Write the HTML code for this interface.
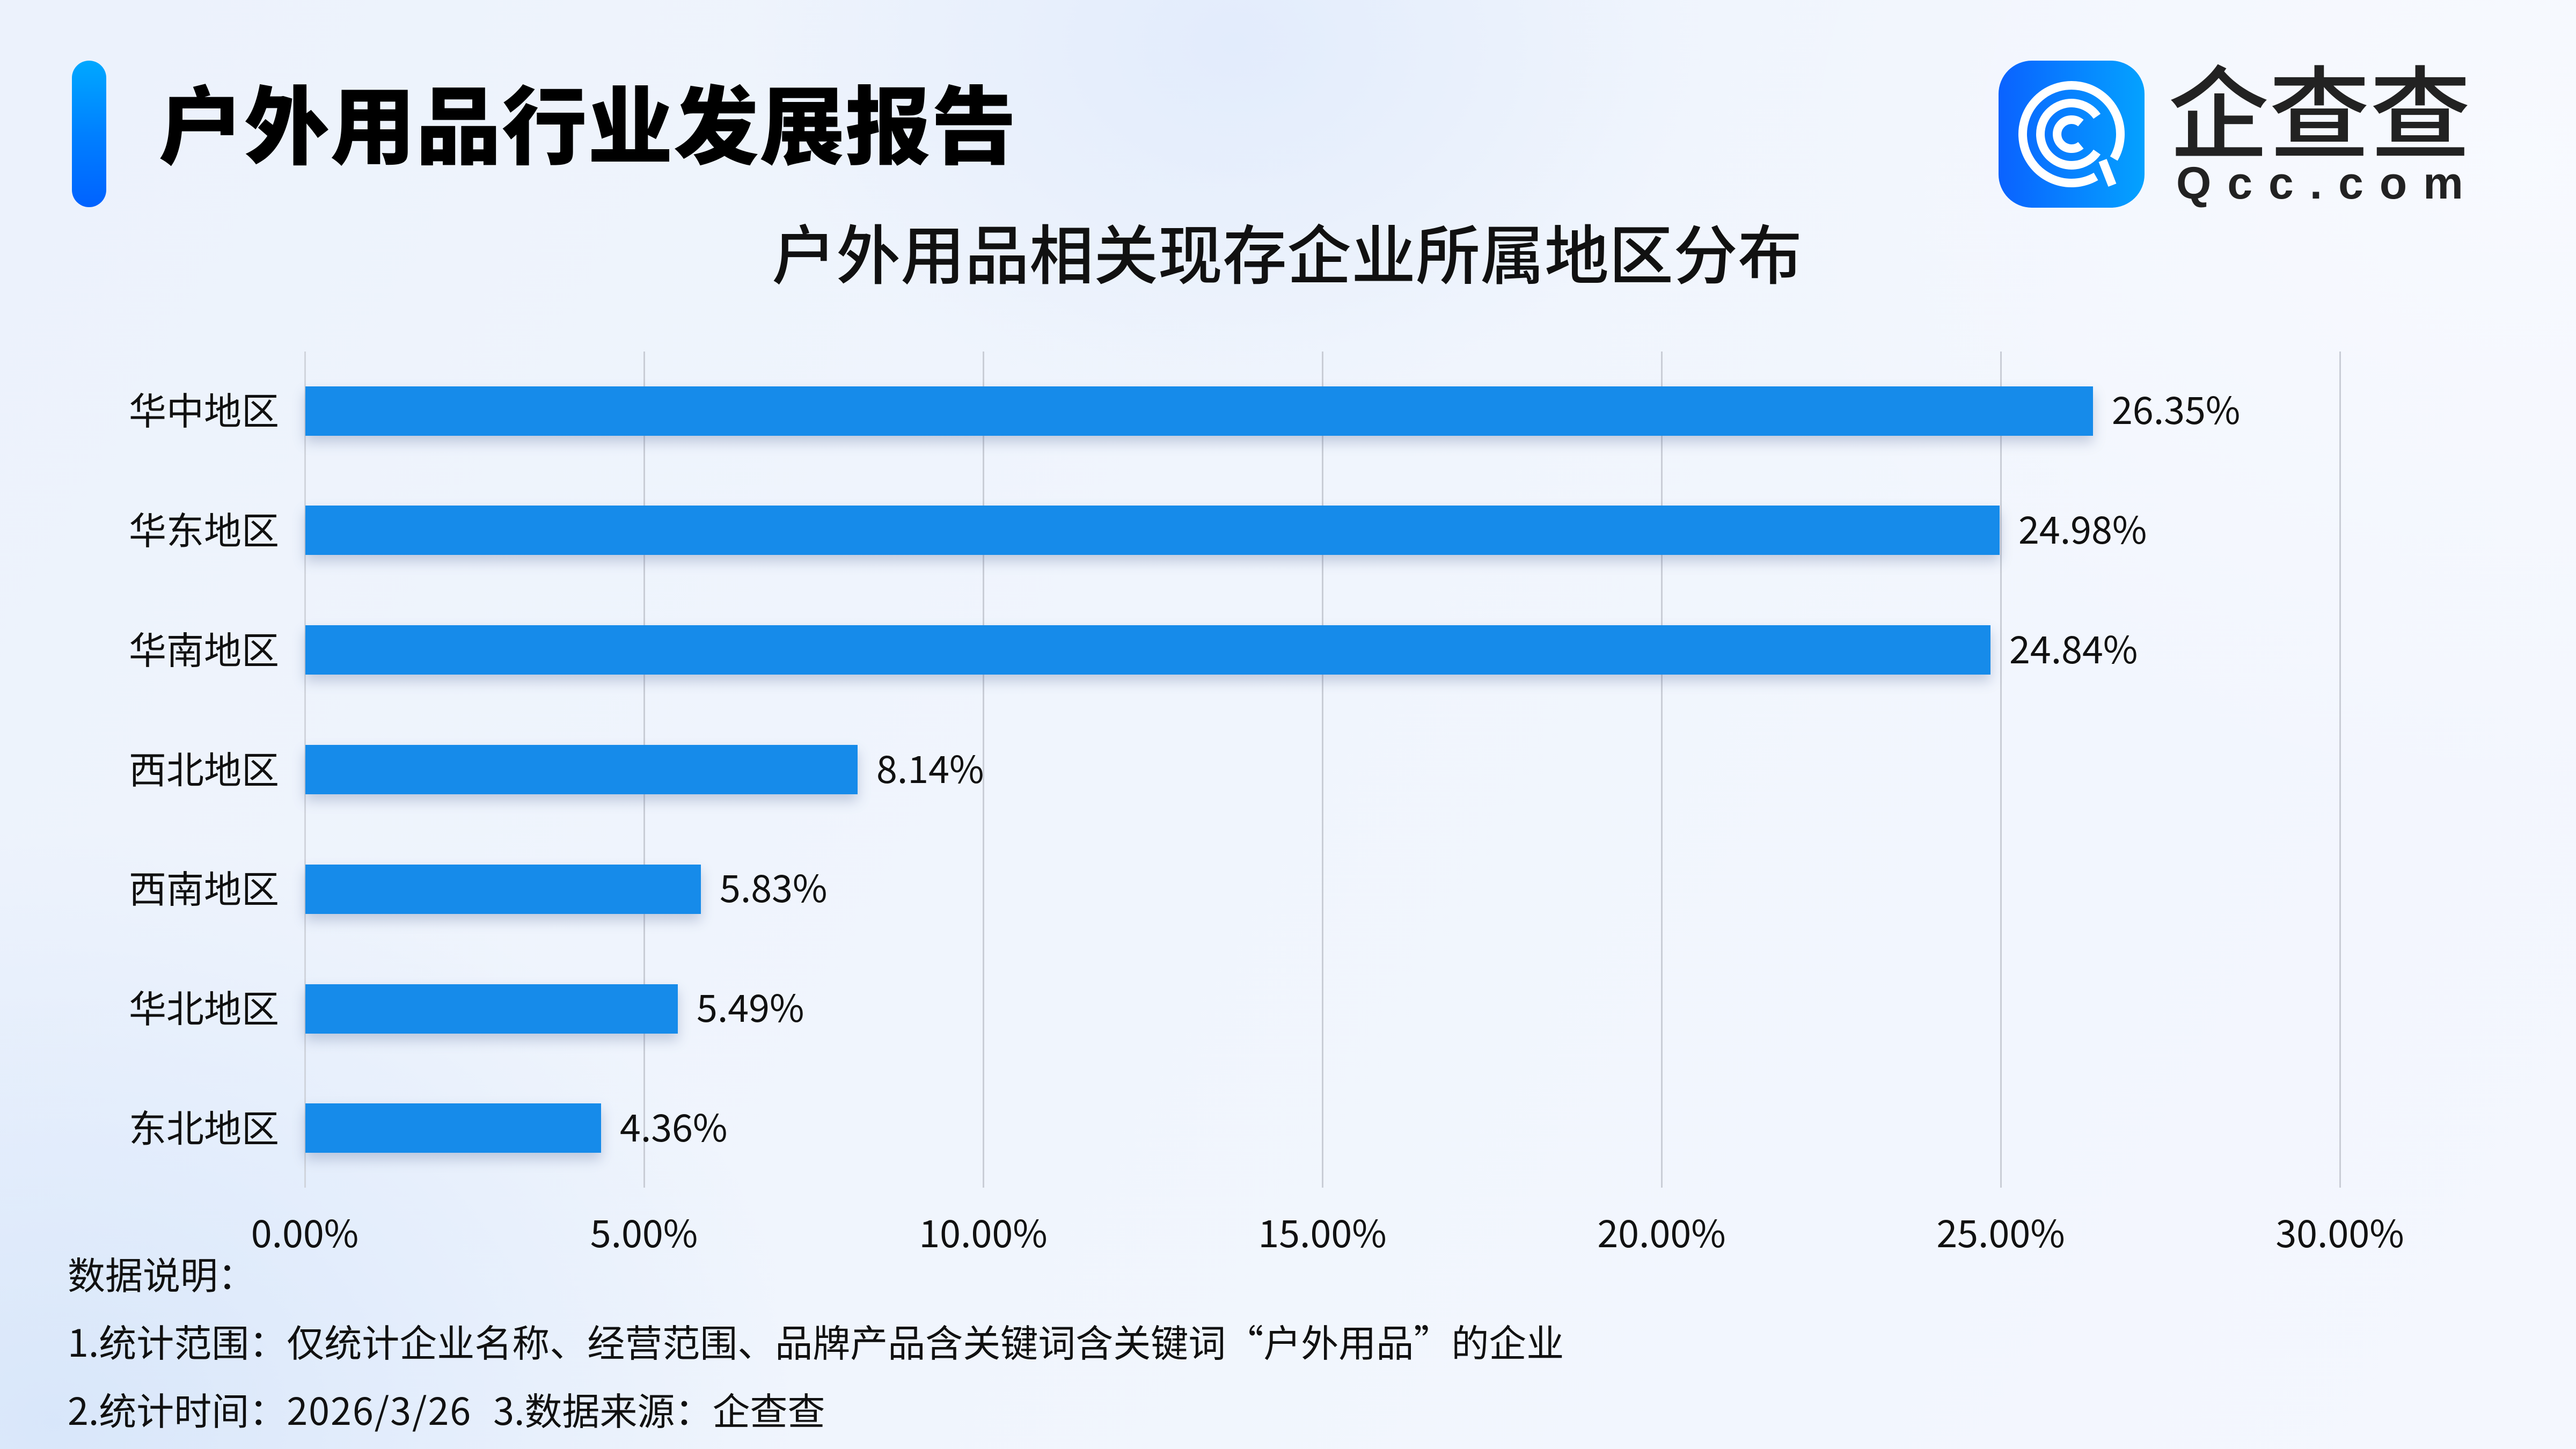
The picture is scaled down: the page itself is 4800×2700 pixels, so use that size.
<!DOCTYPE html>
<html>
<head>
<meta charset="utf-8">
<style>
  html,body{margin:0;padding:0;}
  body{width:4800px;height:2700px;overflow:hidden;position:relative;
    font-family:"Noto Sans CJK SC","Liberation Sans",sans-serif;color:#111;
    background:
      radial-gradient(ellipse 900px 700px at 2300px 80px, rgba(222,233,251,0.75), rgba(222,233,251,0) 100%),
      radial-gradient(ellipse 1400px 1100px at 100px 2650px, rgba(214,229,250,0.9), rgba(214,229,250,0) 100%),
      radial-gradient(ellipse 1400px 1200px at 4700px 300px, rgba(248,250,255,0.9), rgba(248,250,255,0) 100%),
      linear-gradient(120deg,#ecf2fc 0%,#f0f5fd 45%,#f4f7fe 100%);
  }
  .abs{position:absolute;white-space:nowrap;line-height:1;}
  .grid{position:absolute;top:655px;height:1558px;width:3px;background:#c9cdd6;}
  .bar{position:absolute;left:569px;height:92px;background:#168bea;
    box-shadow:0 12px 22px rgba(70,90,140,0.28);}
  .lab{position:absolute;right:4280px;font-size:70px;line-height:1;white-space:nowrap;text-align:right;color:#111;}
  .val{position:absolute;font-size:70px;line-height:1;white-space:nowrap;color:#111;}
  .tick{position:absolute;top:2260px;width:400px;margin-left:-200px;text-align:center;font-size:70px;line-height:1;color:#111;}
  .foot{position:absolute;left:126px;font-size:70px;line-height:1;white-space:nowrap;color:#111;}
  .ql{display:inline-block;width:1em;text-align:right;}
  .qr{display:inline-block;width:1em;text-align:left;}
</style>
</head>
<body>
  <!-- accent bar -->
  <div style="position:absolute;left:134px;top:113px;width:64px;height:273px;border-radius:32px;background:linear-gradient(180deg,#00a8ff 0%,#0080ff 50%,#0062ff 100%);"></div>
  <!-- title -->
  <div class="abs" style="left:295px;top:145px;font-size:159px;font-weight:900;color:#000;letter-spacing:1px;">户外用品行业发展报告</div>

  <!-- logo icon -->
  <svg style="position:absolute;left:3724px;top:113px;" width="272" height="274" viewBox="0 0 272 274">
    <defs>
      <linearGradient id="lg" x1="0" y1="0" x2="1" y2="0">
        <stop offset="0" stop-color="#0a62ff"/>
        <stop offset="1" stop-color="#04a2ff"/>
      </linearGradient>
    </defs>
    <rect x="0" y="0" width="272" height="274" rx="62" ry="62" fill="url(#lg)"/>
    <g fill="none" stroke="#ffffff" stroke-width="16">
      <path d="M181.5 215.8 A91 91 0 1 1 214.8 182.5"/>
      <path d="M183.5 170.3 A58 58 0 1 1 183.5 103.7"/>
      <path d="M153.4 157.7 A27 27 0 1 1 153.4 116.3"/>
      <path d="M194 186 L212 232"/>
    </g>
  </svg>
  <div class="abs" style="left:4040px;top:105px;font-size:188px;font-weight:500;color:#222;">企查查</div>
  <div class="abs" style="left:4055px;top:299px;font-family:'Liberation Sans',sans-serif;font-size:84px;font-weight:bold;color:#222;letter-spacing:30px;">Qcc.com</div>

  <!-- subtitle -->
  <div class="abs" style="left:0;width:4796px;text-align:center;top:407px;font-size:120px;font-weight:500;color:#111;">户外用品相关现存企业所属地区分布</div>

  <!-- gridlines -->
  <div class="grid" style="left:567px;background:#d0d4dc;"></div>
  <div class="grid" style="left:1199px;"></div>
  <div class="grid" style="left:1831px;"></div>
  <div class="grid" style="left:2463px;"></div>
  <div class="grid" style="left:3095px;"></div>
  <div class="grid" style="left:3727px;"></div>
  <div class="grid" style="left:4359px;"></div>

  <!-- bars -->
  <div class="bar" style="top:720px;width:3331px;"></div>
  <div class="bar" style="top:942px;width:3157px;"></div>
  <div class="bar" style="top:1165px;width:3140px;"></div>
  <div class="bar" style="top:1388px;width:1029px;"></div>
  <div class="bar" style="top:1611px;width:737px;"></div>
  <div class="bar" style="top:1834px;width:694px;"></div>
  <div class="bar" style="top:2056px;width:551px;"></div>

  <!-- category labels -->
  <div class="lab" style="top:727px;">华中地区</div>
  <div class="lab" style="top:950px;">华东地区</div>
  <div class="lab" style="top:1173px;">华南地区</div>
  <div class="lab" style="top:1396px;">西北地区</div>
  <div class="lab" style="top:1618px;">西南地区</div>
  <div class="lab" style="top:1841px;">华北地区</div>
  <div class="lab" style="top:2064px;">东北地区</div>

  <!-- value labels -->
  <div class="val" style="left:3935px;top:726px;">26.35%</div>
  <div class="val" style="left:3761px;top:949px;">24.98%</div>
  <div class="val" style="left:3744px;top:1172px;">24.84%</div>
  <div class="val" style="left:1633px;top:1395px;">8.14%</div>
  <div class="val" style="left:1341px;top:1617px;">5.83%</div>
  <div class="val" style="left:1298px;top:1840px;">5.49%</div>
  <div class="val" style="left:1155px;top:2063px;">4.36%</div>

  <!-- tick labels -->
  <div class="tick" style="left:568px;">0.00%</div>
  <div class="tick" style="left:1200px;">5.00%</div>
  <div class="tick" style="left:1832px;">10.00%</div>
  <div class="tick" style="left:2464px;">15.00%</div>
  <div class="tick" style="left:3096px;">20.00%</div>
  <div class="tick" style="left:3728px;">25.00%</div>
  <div class="tick" style="left:4360px;">30.00%</div>

  <!-- footnotes -->
  <div class="foot" style="top:2338px;">数据说明：</div>
  <div class="foot" style="top:2464px;">1.统计范围：仅统计企业名称、经营范围、品牌产品含关键词含关键词<span class="ql">“</span>户外用品<span class="qr">”</span>的企业</div>
  <div class="foot" style="top:2591px;">2.统计时间：<span style="letter-spacing:2px;">2026/3/26</span><span style="display:inline-block;width:40px;"></span>3.数据来源：企查查</div>
</body>
</html>
